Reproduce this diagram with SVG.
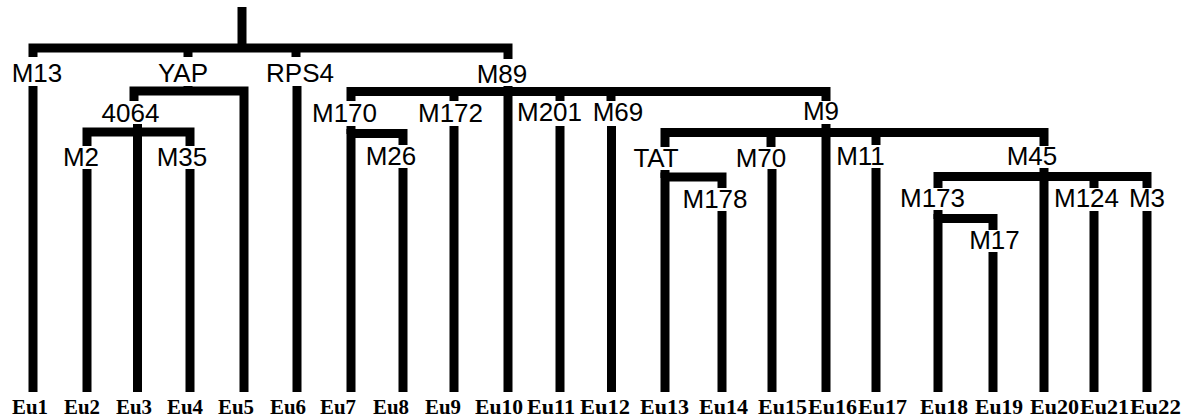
<svg xmlns="http://www.w3.org/2000/svg" width="1189" height="419" viewBox="0 0 1189 419">
<style>
.c{fill:none;stroke:#000;stroke-width:9;stroke-linecap:butt;stroke-linejoin:miter}
.n{font-family:"Liberation Sans",Arial,sans-serif;font-size:26px;fill:#000;text-anchor:middle}
.l{font-family:"Liberation Serif","Times New Roman",serif;font-size:22px;font-weight:bold;fill:#000}
</style>
<rect width="1189" height="419" fill="#fff"/>
<g id="connectors">
<path class="c" d="M242,7 V48"/>
<path class="c" d="M33,57 V48 H508 V59"/>
<path class="c" d="M188,48 V57"/>
<path class="c" d="M296,48 V57"/>
<path class="c" d="M33,86 V392"/>
<path class="c" d="M188,86 V91"/>
<path class="c" d="M134,101 V91 H244 V392"/>
<path class="c" d="M137.5,124 V392"/>
<path class="c" d="M87,146 V132 H190 V146"/>
<path class="c" d="M87,169 V392"/>
<path class="c" d="M190,169 V392"/>
<path class="c" d="M297,86 V392"/>
<path class="c" d="M508,86 V392"/>
<path class="c" d="M351,101 V91.5 H826 V101"/>
<path class="c" d="M454,91 V101"/>
<path class="c" d="M560,91 V101"/>
<path class="c" d="M611,91 V101"/>
<path class="c" d="M351,126 V134"/>
<path class="c" d="M351,392 V133.5 H403 V145"/>
<path class="c" d="M403,168 V392"/>
<path class="c" d="M454,126 V392"/>
<path class="c" d="M560,126 V392"/>
<path class="c" d="M611.5,126 V392"/>
<path class="c" d="M826,124 V392"/>
<path class="c" d="M665,147 V132.5 H1044 V146"/>
<path class="c" d="M771,132 V147"/>
<path class="c" d="M876,132 V145"/>
<path class="c" d="M665,170 V178"/>
<path class="c" d="M665,392 V177 H722 V188"/>
<path class="c" d="M722,211 V392"/>
<path class="c" d="M772,169 V392"/>
<path class="c" d="M876,168 V392"/>
<path class="c" d="M1044,168 V392"/>
<path class="c" d="M938,188 V176.5 H1147 V188"/>
<path class="c" d="M1094,176 V188"/>
<path class="c" d="M938,210 V219"/>
<path class="c" d="M938,392 V218.5 H993 V230"/>
<path class="c" d="M993,252 V392"/>
<path class="c" d="M1094,211 V392"/>
<path class="c" d="M1147,211 V392"/>
</g>
<g id="n-M13"><text class="n" x="37" y="82">M13</text></g>
<g id="n-YAP"><text class="n" x="183" y="82">YAP</text></g>
<g id="n-RPS4"><text class="n" x="300" y="82">RPS4</text></g>
<g id="n-M89"><text class="n" x="502" y="83">M89</text></g>
<g id="n-4064"><text class="n" x="130.5" y="122">4064</text></g>
<g id="n-M2"><text class="n" x="81" y="166">M2</text></g>
<g id="n-M35"><text class="n" x="182" y="166">M35</text></g>
<g id="n-M170"><text class="n" x="344.5" y="122">M170</text></g>
<g id="n-M26"><text class="n" x="391" y="165">M26</text></g>
<g id="n-M172"><text class="n" x="450.5" y="122">M172</text></g>
<g id="n-M201"><text class="n" x="549.5" y="121">M201</text></g>
<g id="n-M69"><text class="n" x="618" y="121">M69</text></g>
<g id="n-M9"><text class="n" x="821" y="120">M9</text></g>
<g id="n-TAT"><text class="n" x="656" y="167">TAT</text></g>
<g id="n-M178"><text class="n" x="715" y="208">M178</text></g>
<g id="n-M70"><text class="n" x="761" y="167">M70</text></g>
<g id="n-M11"><text class="n" x="860.5" y="165">M11</text></g>
<g id="n-M45"><text class="n" x="1032" y="165">M45</text></g>
<g id="n-M173"><text class="n" x="932.5" y="207">M173</text></g>
<g id="n-M17"><text class="n" x="994.5" y="249">M17</text></g>
<g id="n-M124"><text class="n" x="1086.5" y="207">M124</text></g>
<g id="n-M3"><text class="n" x="1147" y="207">M3</text></g>
<g id="leaves">
<g id="Eu1"><text class="l" x="12" y="414" textLength="36" lengthAdjust="spacingAndGlyphs">Eu1</text></g>
<g id="Eu2"><text class="l" x="64" y="414" textLength="36" lengthAdjust="spacingAndGlyphs">Eu2</text></g>
<g id="Eu3"><text class="l" x="116" y="414" textLength="36" lengthAdjust="spacingAndGlyphs">Eu3</text></g>
<g id="Eu4"><text class="l" x="167" y="414" textLength="36" lengthAdjust="spacingAndGlyphs">Eu4</text></g>
<g id="Eu5"><text class="l" x="218" y="414" textLength="36" lengthAdjust="spacingAndGlyphs">Eu5</text></g>
<g id="Eu6"><text class="l" x="270" y="414" textLength="36" lengthAdjust="spacingAndGlyphs">Eu6</text></g>
<g id="Eu7"><text class="l" x="320" y="414" textLength="36" lengthAdjust="spacingAndGlyphs">Eu7</text></g>
<g id="Eu8"><text class="l" x="373" y="414" textLength="36" lengthAdjust="spacingAndGlyphs">Eu8</text></g>
<g id="Eu9"><text class="l" x="425" y="414" textLength="36" lengthAdjust="spacingAndGlyphs">Eu9</text></g>
<g id="Eu10"><text class="l" x="475" y="414" textLength="48" lengthAdjust="spacingAndGlyphs">Eu10</text></g>
<g id="Eu11"><text class="l" x="527" y="414" textLength="48" lengthAdjust="spacingAndGlyphs">Eu11</text></g>
<g id="Eu12"><text class="l" x="580" y="414" textLength="50" lengthAdjust="spacingAndGlyphs">Eu12</text></g>
<g id="Eu13"><text class="l" x="640" y="414" textLength="49" lengthAdjust="spacingAndGlyphs">Eu13</text></g>
<g id="Eu14"><text class="l" x="699" y="414" textLength="49" lengthAdjust="spacingAndGlyphs">Eu14</text></g>
<g id="Eu15"><text class="l" x="758" y="414" textLength="49" lengthAdjust="spacingAndGlyphs">Eu15</text></g>
<g id="Eu16"><text class="l" x="808" y="414" textLength="49" lengthAdjust="spacingAndGlyphs">Eu16</text></g>
<g id="Eu17"><text class="l" x="858" y="414" textLength="49" lengthAdjust="spacingAndGlyphs">Eu17</text></g>
<g id="Eu18"><text class="l" x="920" y="414" textLength="48" lengthAdjust="spacingAndGlyphs">Eu18</text></g>
<g id="Eu19"><text class="l" x="975" y="414" textLength="48" lengthAdjust="spacingAndGlyphs">Eu19</text></g>
<g id="Eu20"><text class="l" x="1030" y="414" textLength="49" lengthAdjust="spacingAndGlyphs">Eu20</text></g>
<g id="Eu21"><text class="l" x="1080" y="414" textLength="49" lengthAdjust="spacingAndGlyphs">Eu21</text></g>
<g id="Eu22"><text class="l" x="1130" y="414" textLength="51" lengthAdjust="spacingAndGlyphs">Eu22</text></g>
</g>
</svg>
